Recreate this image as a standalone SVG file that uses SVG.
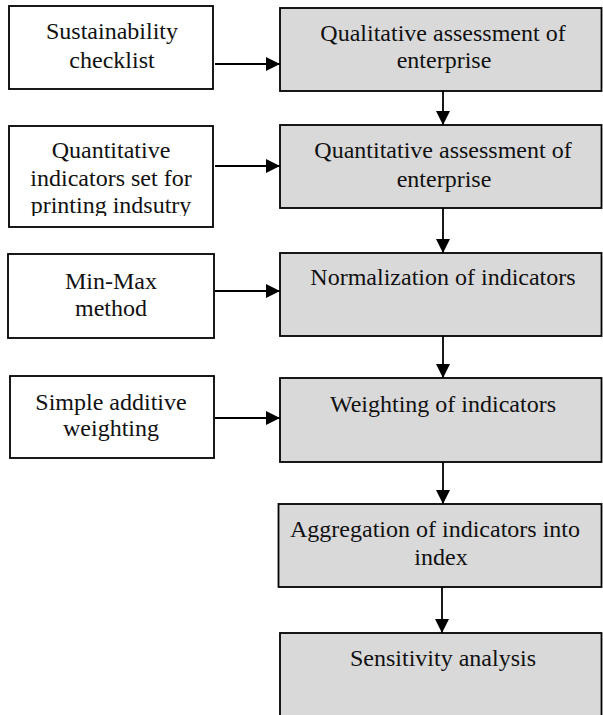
<svg xmlns="http://www.w3.org/2000/svg" width="603" height="715" viewBox="0 0 603 715">
<defs>
<style>
.w{fill:#fff;stroke:#000;stroke-width:1.8}
.g{fill:#d9d9d9;stroke:#000;stroke-width:1.8}
text{font-family:"Liberation Serif","Times New Roman",serif;font-size:24px;fill:#111;text-anchor:middle}
.c{stroke:#000;stroke-width:1.8;fill:none;marker-end:url(#ah)}
</style>
<marker id="ah" viewBox="0 0 14 14" refX="14" refY="7" markerWidth="14" markerHeight="14" markerUnits="userSpaceOnUse" orient="auto">
<path d="M0,0 L14,7 L0,14 z" fill="#000"/>
</marker>
<clipPath id="clipL2"><rect x="9" y="126" width="204" height="90"/></clipPath>
</defs>
<rect width="603" height="715" fill="#fff"/>
<g id="connectors">
<line class="c" x1="215" y1="64" x2="280" y2="64"/>
<line class="c" x1="215" y1="166" x2="280" y2="166"/>
<line class="c" x1="215" y1="291" x2="280" y2="291"/>
<line class="c" x1="215" y1="418" x2="280" y2="418"/>
<line class="c" x1="443" y1="91" x2="443" y2="125"/>
<line class="c" x1="443" y1="208" x2="443" y2="253"/>
<line class="c" x1="443" y1="336" x2="443" y2="378"/>
<line class="c" x1="443" y1="462" x2="443" y2="504"/>
<line class="c" x1="442" y1="587" x2="442" y2="633"/>
</g>
<g id="n-checklist"><rect class="w" x="9" y="6" width="204" height="83"/><text x="112" y="39">Sustainability</text><text x="112" y="68">checklist</text></g>
<g id="n-quantset"><rect class="w" x="9" y="126" width="204" height="101"/><g clip-path="url(#clipL2)"><text x="111" y="158">Quantitative</text><text x="111" y="186">indicators set for</text><text x="111" y="213">printing indsutry</text></g></g>
<g id="n-minmax"><rect class="w" x="8" y="254" width="206" height="84"/><text x="111" y="289">Min-Max</text><text x="111" y="316">method</text></g>
<g id="n-saw"><rect class="w" x="10" y="376" width="204" height="82"/><text x="111" y="410">Simple additive</text><text x="111" y="436">weighting</text></g>
<g id="n-qual"><rect class="g" x="280" y="8" width="321.5" height="83"/><text x="443" y="41">Qualitative assessment of</text><text x="444" y="68">enterprise</text></g>
<g id="n-quant"><rect class="g" x="280" y="125" width="321.5" height="83"/><text x="443" y="158">Quantitative assessment of</text><text x="444" y="187">enterprise</text></g>
<g id="n-norm"><rect class="g" x="280" y="253" width="321.5" height="83"/><text x="443" y="285">Normalization of indicators</text></g>
<g id="n-weight"><rect class="g" x="280" y="378" width="321.5" height="84"/><text x="443" y="412">Weighting of indicators</text></g>
<g id="n-agg"><rect class="g" x="278.5" y="504" width="323" height="83"/><text x="435" y="537">Aggregation of indicators into</text><text x="441" y="565">index</text></g>
<g id="n-sens"><rect class="g" x="280" y="633" width="321.5" height="100"/><text x="443" y="666">Sensitivity analysis</text></g>
</svg>
